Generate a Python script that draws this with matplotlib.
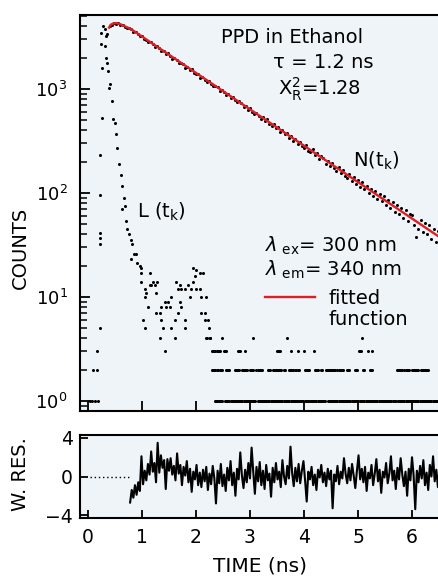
import numpy as np
import matplotlib.pyplot as plt
from matplotlib.ticker import NullFormatter

plt.rcParams['font.family'] = ['DejaVu Sans']
plt.rcParams['mathtext.fontset'] = 'dejavusans'

# decay N(t_k): one value per 0.04 ns channel, first channel at 0.32 ns
decay_t0 = 0.32
decay_dt = 0.04
decay_counts = [
    2600, 3380, 4010, 4160, 4330, 4250, 4310, 4150, 4140, 3990, 3880, 3890, 3740,
    3570, 3530, 3390, 3210, 3230, 3020, 2990, 2810, 2850, 2700,
    2560, 2570, 2470, 2300, 2330, 2190, 2210, 2060, 1960, 1990,
    1920, 1790, 1760, 1750, 1610, 1640, 1530, 1560, 1420, 1400,
    1390, 1290, 1310, 1230, 1170, 1200, 1110, 1060, 1080, 1040,
    960, 978, 941, 870, 889, 820, 840, 781, 742, 762,
    731, 672, 690, 628, 655, 602, 570, 590, 548, 520,
    535, 489, 512, 460, 441, 458, 419, 431, 382, 400,
    369, 380, 337, 352, 318, 334, 297, 311, 283, 270,
    289, 255, 247, 262, 231, 241, 212, 226, 219, 191,
    205, 183, 196, 172, 163, 179, 154, 166, 147, 139,
    152, 131, 143, 122, 133, 115, 127, 109, 118, 99,
    109, 94, 104, 88, 97, 83, 93, 76, 86, 72,
    81, 66, 76, 63, 72, 58, 68, 54, 63, 61,
    49, 38, 45, 55, 42, 51, 40, 49, 36, 45,
    34, 43, 31, 40, 29,
]

# fitted function (ns, counts)
fit_t = [0.39, 0.42, 0.47, 0.53, 0.60, 0.68, 0.80, 6.60]
fit_counts = [3900, 4150, 4280, 4300, 4200, 4020, 3760, 35]

# lamp profile L(t_k), main peak (ns, counts)
lamp_head = [
    (0.04, 1), (0.08, 1), (0.13, 1), (0.18, 1), (0.10, 2), (0.17, 2), (0.17, 3),
    (0.22, 5), (0.22, 32), (0.22, 37), (0.22, 41), (0.22, 96), (0.22, 230),
    (0.26, 525), (0.26, 1600), (0.24, 2700), (0.24, 3450), (0.28, 4000),
    (0.31, 3780), (0.33, 3240), (0.33, 2000), (0.35, 1780), (0.37, 1490),
    (0.39, 1020), (0.41, 1120), (0.44, 760), (0.46, 515), (0.50, 470),
    (0.52, 370), (0.54, 270), (0.57, 190), (0.61, 150), (0.63, 117),
    (0.67, 89), (0.69, 75), (0.63, 70), (0.70, 54), (0.72, 45), (0.76, 40),
    (0.80, 35), (0.81, 32), (0.85, 26), (0.89, 26), (0.80, 23), (0.91, 21),
    (0.96, 20), (0.98, 19), (0.98, 17), (1.15, 17), (0.98, 14), (1.06, 12),
    (1.07, 11), (1.15, 13), (1.17, 13), (1.20, 14), (1.24, 13), (1.28, 14),
    (1.26, 11), (1.06, 10), (1.11, 8), (1.02, 6), (1.06, 5), (1.26, 7),
    (1.33, 7), (1.35, 8), (1.43, 9), (1.44, 8), (1.48, 9), (1.52, 8),
    (1.54, 10), (1.35, 6), (1.33, 4), (1.43, 3), (1.39, 5), (1.54, 5),
    (1.61, 4), (1.63, 14), (1.67, 12), (1.70, 13), (1.72, 12), (1.61, 6),
    (1.67, 7), (1.70, 9), (1.72, 8), (1.80, 12), (1.80, 6), (1.80, 5),
    (1.85, 13), (1.91, 12), (1.94, 14), (1.98, 16), (1.94, 19), (2.00, 18),
    (2.07, 17), (2.13, 17), (2.00, 12), (2.07, 12), (1.89, 10), (2.09, 10),
    (2.19, 10), (2.09, 7), (2.17, 7), (2.17, 6), (2.22, 6), (2.24, 5),
    (2.19, 4), (2.26, 4),
]

# lamp tail: runs of channels sitting at a given count (count, t_from, t_to)
lamp_runs = [
    (4, 2.20, 2.20), (4, 2.26, 2.26), (4, 2.48, 2.48), (4, 3.06, 3.06),
    (4, 3.69, 3.69), (4, 5.07, 5.07),
    (3, 2.30, 2.45), (3, 2.52, 2.56), (3, 2.78, 2.83), (3, 2.91, 2.91),
    (3, 3.50, 3.56), (3, 3.76, 3.76), (3, 3.88, 3.88), (3, 4.00, 4.00),
    (3, 4.18, 4.18), (3, 5.02, 5.07), (3, 5.18, 5.18), (3, 5.25, 5.25),
    (2, 2.30, 2.40), (2, 2.45, 2.50), (2, 2.56, 2.63), (2, 2.72, 2.80),
    (2, 2.85, 2.96), (2, 3.00, 3.06), (2, 3.12, 3.22), (2, 3.33, 3.38),
    (2, 3.42, 3.58), (2, 3.63, 3.66), (2, 3.72, 3.80), (2, 3.84, 3.90),
    (2, 4.02, 4.10), (2, 4.20, 4.26), (2, 4.31, 4.34), (2, 4.40, 4.58),
    (2, 4.62, 4.72), (2, 4.80, 4.85), (2, 4.95, 5.00), (2, 5.10, 5.13),
    (2, 5.22, 5.26), (2, 5.72, 5.82), (2, 5.86, 5.95), (2, 6.00, 6.12),
    (2, 6.16, 6.30),
    (1, 2.35, 2.50), (1, 2.54, 3.10), (1, 3.14, 3.60), (1, 3.63, 4.40),
    (1, 4.44, 5.00), (1, 5.04, 5.70), (1, 5.74, 6.60),
]

# weighted residuals, one value per 0.03 ns from 0.78 ns
res_t0 = 0.78
res_dt = 0.03
residuals = [
    -2.7, -1.4, -2.2, -0.9, -1.9, -0.6, -1.5, 2.1, -0.8, 0.6,
    -0.4, 1.3, 0.2, 2.6, 0.5, 1.4, -0.6, 3.5, 0.4, 2.2,
    0.9, 1.7, -1.3, 1.8, 0.6, 1.9, 0.2, 1.1, -0.4, 2.4,
    0.3, 1.2, -0.9, 1.0, 0.1, 1.6, -0.6, 0.8, -1.6, 0.5,
    -0.3, 1.2, -0.9, 0.4, -1.1, 0.7, -0.5, 1.0, -1.4, 0.3,
    -0.8, 1.1, -0.2, -2.8, 0.6, -0.7, 1.3, -1.0, 0.2, -1.5,
    0.9, -0.4, 1.6, -0.9, 0.4, -2.0, 0.8, -0.3, 2.5, 0.1,
    -1.2, 0.7, -0.6, 1.4, -0.2, 3.0, 0.5, -1.8, 1.0, -0.5,
    1.5, -0.9, 0.6, -1.3, 1.2, -0.4, 0.3, -2.1, 0.9, -0.6,
    1.4, -0.3, 0.5, -1.1, 1.7, 0.0, -0.8, 1.1, -0.2, 3.1,
    0.4, -1.0, 0.9, -0.5, 1.3, -0.7, 0.6, 1.6, -0.4, -2.6,
    0.5, -0.3, 1.0, -0.9, 0.2, -1.4, 0.7, -0.1, 1.2, -0.6,
    0.4, -1.0, 0.8, -0.3, 0.6, -3.3, 0.2, -0.5, 1.1, -0.8,
    0.5, -0.2, 1.9, 0.3, -0.7, 0.9, -0.4, 1.3, 0.1, -1.2,
    0.6, 2.2, -0.3, 0.8, -0.6, 1.0, -1.5, 0.4, -0.2, 1.2,
    -0.9, 0.3, 1.8, -0.5, 0.7, -1.7, 0.5, -0.1, 1.4, -0.7,
    0.3, 2.1, -0.4, 0.6, -1.3, 0.9, -0.3, 1.9, 0.2, -1.0,
    0.5, -2.0, 0.8, -0.4, 2.0, 0.1, -3.4, 0.6, -0.6, 1.1,
    -0.2, 1.7, -0.9, 0.4, -1.4, 1.2, 0.0, 2.1, -0.5, 0.7,
    -1.1, 0.9, -0.3, 1.5, -0.6,
]

decay_t = decay_t0 + decay_dt * np.arange(len(decay_counts))
res_t = res_t0 + res_dt * np.arange(len(residuals))
lamp_t = [t for t, n in lamp_head]
lamp_n = [n for t, n in lamp_head]
for n, t_a, t_b in lamp_runs:
    for t in np.arange(t_a, t_b + 0.001, 0.02):
        lamp_t.append(t)
        lamp_n.append(n)

face = '#eef4f7'
fig = plt.figure(figsize=(4.39, 5.76), dpi=100)
ax = fig.add_axes([80 / 439, 1 - 411 / 576, 367 / 439, 396 / 576], facecolor=face)
ax2 = fig.add_axes([80 / 439, 1 - 518 / 576, 367 / 439, 83 / 576], facecolor=face)

dot = dict(ls='none', marker='o', ms=2.2, mew=0, color='black')
ax.plot(lamp_t, lamp_n, **dot)
ax.plot(decay_t, decay_counts, **dot)
ax.plot(fit_t, fit_counts, color='#dd1f26', lw=1.7)

ax.set_yscale('log')
ax.set_ylim(0.80, 5150)
ax.set_xlim(-0.148, 6.648)
ax.set_xticks(range(7))
ax.yaxis.set_minor_formatter(NullFormatter())
ax.tick_params(axis='both', which='major', direction='in', length=7, width=1.3,
               labelsize=13, pad=9)
ax.tick_params(axis='y', which='minor', direction='in', length=5, width=1.1)
ax.tick_params(axis='x', labelbottom=False)

ax.text(0.384, 0.944, 'PPD in Ethanol', transform=ax.transAxes, fontsize=14, va='center')
ax.text(0.526, 0.881, 'τ = 1.2 ns', transform=ax.transAxes, fontsize=14, va='center')
ax.text(0.540, 0.812, r'$\mathregular{Χ^2_R}$=1.28', transform=ax.transAxes,
        fontsize=14, va='center')
ax.text(0.744, 0.631, r'N(t$_\mathregular{k}$)', transform=ax.transAxes, fontsize=14, va='center')
ax.text(0.155, 0.502, r'L (t$_\mathregular{k}$)', transform=ax.transAxes, fontsize=14, va='center')
ax.text(0.504, 0.417, r'$\lambda_{\mathregular{\ ex}}$= 300 nm', transform=ax.transAxes,
        fontsize=14, va='center')
ax.text(0.504, 0.356, r'$\lambda_{\mathregular{\ em}}$= 340 nm', transform=ax.transAxes,
        fontsize=14, va='center')
ax.plot([0.504, 0.640], [0.288, 0.288], transform=ax.transAxes, color='#dd1f26', lw=1.7)
ax.text(0.676, 0.285, 'fitted', transform=ax.transAxes, fontsize=14, va='center')
ax.text(0.676, 0.230, 'function', transform=ax.transAxes, fontsize=14, va='center')

ax2.plot(res_t, residuals, color='black', lw=1.5)
ax2.hlines(0, 0.03, res_t[0], colors='black', linestyles=(0, (1, 2)), lw=1)
ax2.set_xlim(-0.148, 6.648)
ax2.set_ylim(-4.31, 4.31)
ax2.set_xticks(range(7))
ax2.set_yticks([-4, 0, 4])
ax2.tick_params(axis='both', direction='in', length=6, width=1.3, labelsize=13.5)
ax2.tick_params(axis='y', pad=5)
ax2.tick_params(axis='x', pad=7)

for a in (ax, ax2):
    for s in a.spines.values():
        s.set_linewidth(1.5)

fig.text(20 / 439, 1 - 248 / 576, 'COUNTS', rotation=90, fontsize=14, ha='center', va='center')
fig.text(20 / 439, 1 - 474 / 576, 'W. RES.', rotation=90, fontsize=14, ha='center', va='center')
fig.text(260 / 439, 1 - 566 / 576, 'TIME (ns)', fontsize=14.5, ha='center', va='center')

fig.savefig('out.png', dpi=100)
